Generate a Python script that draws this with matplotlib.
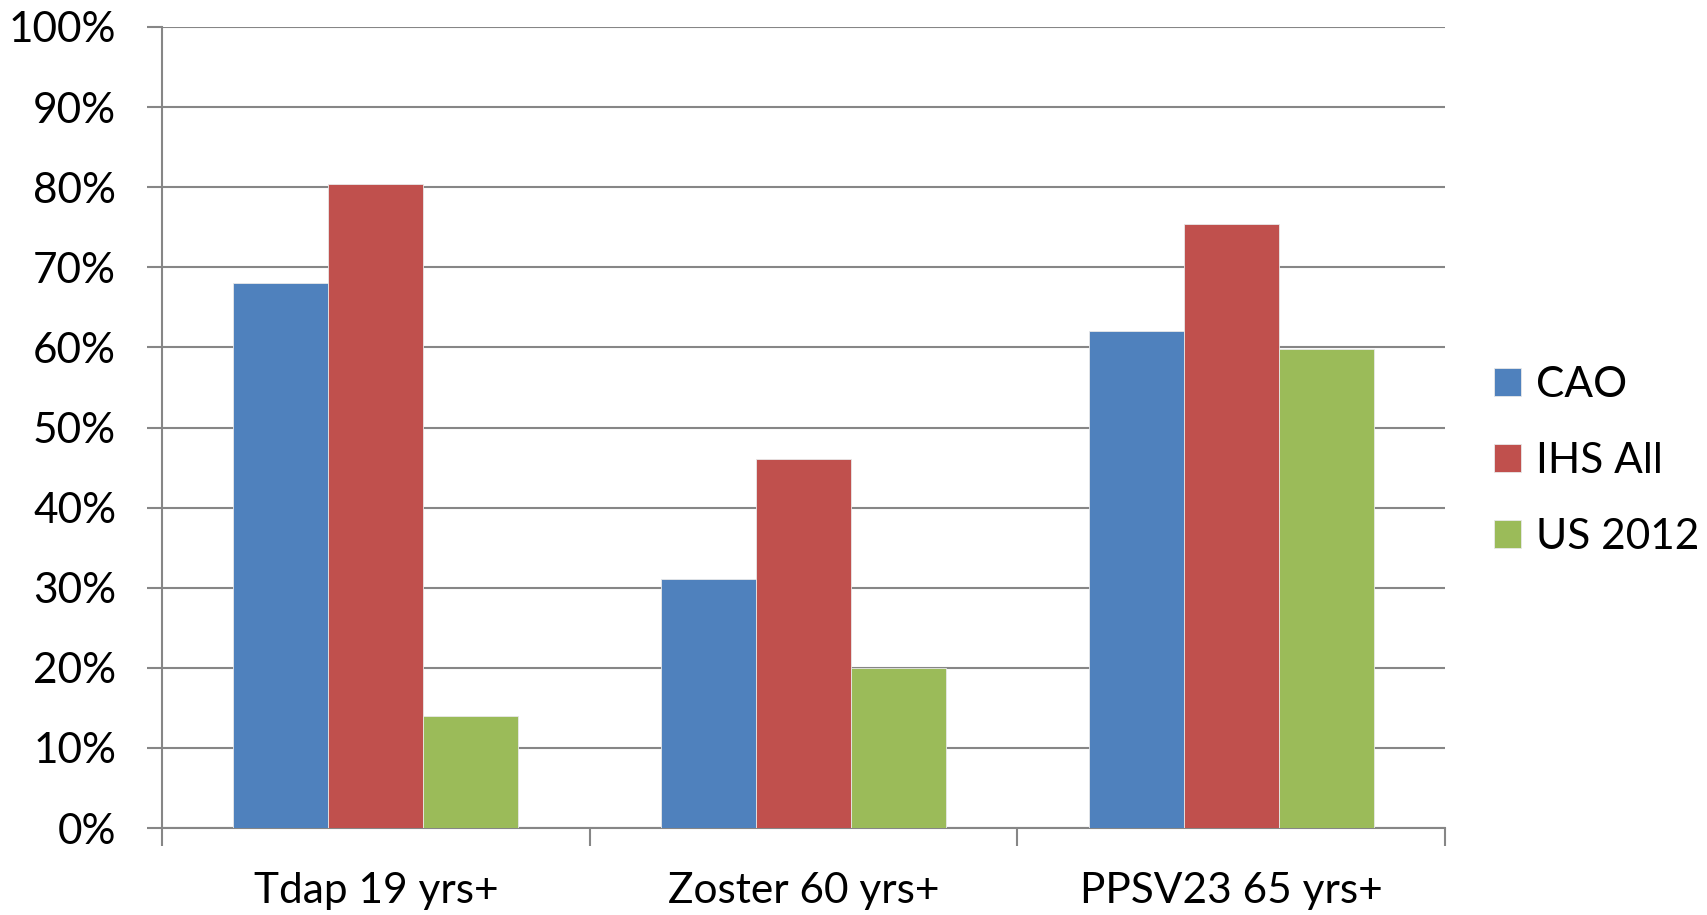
import numpy as np
import matplotlib
matplotlib.use("Agg")
from matplotlib import pyplot as plt
from matplotlib.ticker import FixedLocator, PercentFormatter

plt.rcParams['font.family'] = ['Lato', 'DejaVu Sans']

categories = ['Tdap 19 yrs+', 'Zoster 60 yrs+', 'PPSV23 65 yrs+']
series = ['CAO', 'IHS All', 'US 2012']
cao = [68.0, 31.1, 62.0]
ihs_all = [80.4, 46.1, 75.4]
us_2012 = [14.0, 20.0, 59.8]
colors = ['#4F81BD', '#C0504D', '#9BBB59']

W, H = 1707, 915
fig = plt.figure(figsize=(W / 100, H / 100), dpi=100)
ax = fig.add_axes([162 / W, 87 / H, 1283 / W, 801 / H])

x = np.arange(len(categories))
w = 0.222
for i, (vals, name) in enumerate(zip([cao, ihs_all, us_2012], series)):
    ax.bar(x + (i - 1) * w, vals, width=w, color=colors[i], label=name,
           edgecolor='#e8e8e8', linewidth=0.6, zorder=3)

ax.set_xlim(-0.5, len(categories) - 0.5)
ax.set_ylim(0, 100)
ax.yaxis.set_major_locator(FixedLocator(np.arange(0, 101, 10)))
ax.yaxis.set_major_formatter(PercentFormatter(decimals=0))
ax.grid(axis='y', color='#868686', linewidth=1.5, zorder=0)

ax.set_xticks(x)
ax.set_xticklabels(categories)
ax.xaxis.set_minor_locator(FixedLocator(np.arange(-0.5, len(categories), 1.0)))
ax.tick_params(axis='x', which='major', length=0, pad=32, labelsize=30.5)
ax.tick_params(axis='x', which='minor', length=13, width=1.5, color='#868686')
ax.tick_params(axis='y', length=11, width=1.5, color='#868686', pad=22, labelsize=30.5)

for s in ['top', 'right']:
    ax.spines[s].set_visible(False)
for s in ['left', 'bottom']:
    ax.spines[s].set_color('#868686')
    ax.spines[s].set_linewidth(1.5)

leg = fig.legend(loc='center left', bbox_to_anchor=(1494 / W, (H - 461) / H),
                 frameon=False, fontsize=30.5, handlelength=0.64, handleheight=0.64,
                 handletextpad=0.34, labelspacing=0.9,
                 borderaxespad=0, borderpad=0)

fig.savefig('out.png', dpi=100)
